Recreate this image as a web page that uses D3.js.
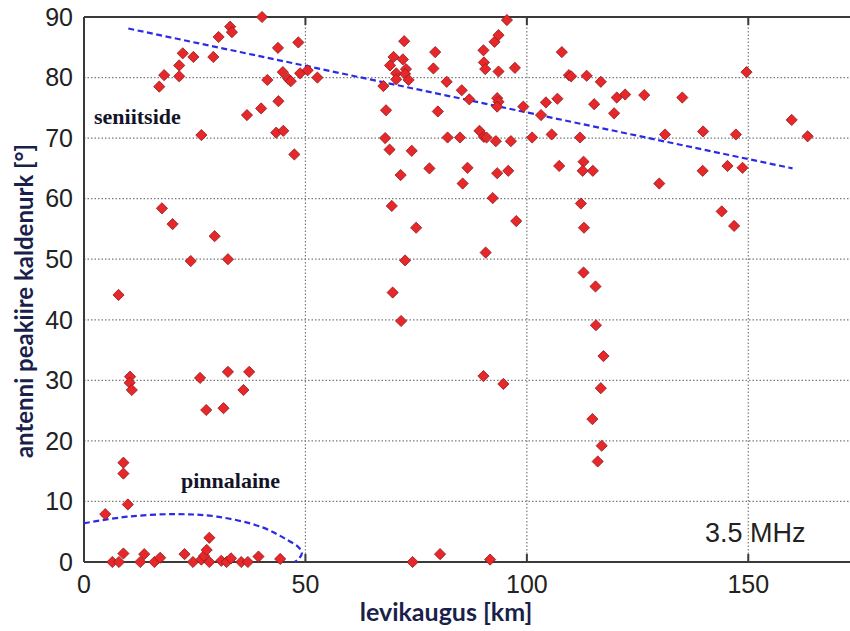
<!DOCTYPE html>
<html>
<head>
<meta charset="utf-8">
<script src="https://cdn.jsdelivr.net/npm/d3@7"></script>
<style>
  body { margin: 0; background: #fff; }
  svg { display: block; }
</style>
</head>
<body>
<svg></svg>
<script>
// measured points: distance [km] and antenna elevation angle [deg]
const levikaugus = [
  40.2, 33.0, 33.4, 30.4, 22.3, 24.7, 29.2, 21.5, 21.5, 18.1, 17.0, 43.8, 48.4, 44.9, 46.1, 46.7,
  41.4, 48.8, 43.9, 40.0, 36.8, 26.5, 43.4, 45.0, 47.5, 17.6, 50.5, 52.7, 67.6, 68.2, 69.9, 69.1,
  70.5, 70.5, 72.3, 72.0, 72.7, 72.5, 73.3, 68.0, 69.0, 74.0, 71.5, 69.5, 79.3, 78.9, 81.9, 85.3,
  87.0, 79.9, 82.1, 84.9, 78.0, 86.6, 85.5, 90.2, 90.3, 90.6, 92.7, 93.6, 95.5, 93.6, 97.3, 93.3,
  93.6, 93.3, 99.2, 89.3, 90.3, 90.9, 93.0, 96.4, 93.3, 95.8, 92.3, 101.2, 103.2, 104.3, 106.9, 107.9,
  109.5, 110.0, 105.6, 107.3, 112.0, 112.2, 113.5, 116.7, 115.2, 120.3, 122.2, 126.5, 135.1, 119.7, 149.6, 131.2,
  139.8, 147.2, 159.8, 163.4, 112.8, 112.6, 114.9, 129.9, 139.7, 145.3, 148.7, 144.0, 20.0, 29.5, 24.1, 32.5,
  7.8, 10.4, 10.3, 10.8, 26.2, 32.5, 37.3, 36.0, 27.6, 31.5, 75.0, 97.6, 90.7, 72.5, 69.7, 71.6,
  90.2, 94.7, 112.9, 146.8, 112.8, 115.5, 115.6, 117.3, 116.7, 114.8, 116.9, 116.0, 8.9, 8.9, 9.9, 4.8,
  6.4, 7.9, 8.9, 12.7, 13.6, 15.9, 17.2, 22.7, 24.6, 26.5, 27.1, 27.7, 28.3, 28.3, 31.0, 32.2,
  33.2, 35.5, 37.0, 39.4, 44.3, 74.2, 80.4, 91.7
];
const nurk = [
  90.0, 88.4, 87.5, 86.7, 84.0, 83.4, 83.4, 82.0, 80.2, 80.4, 78.5, 84.9, 85.8, 80.9, 79.8, 79.4,
  79.6, 80.7, 76.1, 74.9, 73.8, 70.5, 70.9, 71.2, 67.3, 58.4, 81.2, 80.0, 78.6, 74.6, 83.4, 82.0,
  80.7, 79.7, 86.0, 83.0, 81.4, 80.6, 79.6, 70.0, 68.1, 67.9, 63.9, 58.8, 84.2, 81.5, 79.3, 77.9,
  76.4, 74.4, 70.1, 70.1, 65.0, 65.1, 62.5, 84.5, 82.5, 81.4, 85.9, 87.0, 89.5, 81.0, 81.6, 76.6,
  76.0, 75.2, 75.2, 71.2, 70.2, 70.1, 69.5, 69.5, 64.2, 64.6, 60.1, 70.1, 73.8, 75.9, 76.5, 84.2,
  80.4, 80.2, 70.6, 65.4, 70.1, 59.2, 80.3, 79.3, 75.6, 76.7, 77.2, 77.1, 76.7, 74.1, 80.9, 70.6,
  71.1, 70.6, 73.0, 70.3, 66.1, 64.6, 64.6, 62.5, 64.6, 65.4, 65.1, 57.9, 55.8, 53.8, 49.7, 50.0,
  44.1, 30.6, 29.6, 28.4, 30.4, 31.4, 31.4, 28.4, 25.1, 25.4, 55.2, 56.3, 51.1, 49.8, 44.5, 39.8,
  30.7, 29.4, 55.2, 55.5, 47.8, 45.5, 39.1, 34.0, 28.7, 23.6, 19.2, 16.6, 16.4, 14.6, 9.5, 7.9,
  0, 0, 1.4, 0, 1.3, 0, 0.7, 1.3, 0, 0.4, 1.0, 2.0, 4.0, 0, 0.2, 0,
  0.6, 0, 0, 0.9, 0.5, 0, 1.3, 0.4
];

// sky-wave trend line (two end points)
const trendX = [10, 160];
const trendY = [88.1, 65.0];

// ground-wave boundary curve
const pinnaX = [0, 10, 21, 30, 40, 46, 48.5, 49.2, 48.6, 47.6];
const pinnaY = [6.4, 7.5, 7.9, 7.5, 5.8, 3.6, 2.4, 1.5, 0.6, 0];

const xTicks = [0, 50, 100, 150];
const yTicks = [0, 10, 20, 30, 40, 50, 60, 70, 80, 90];

const width = 850, height = 631;
const svg = d3.select("svg").attr("width", width).attr("height", height);

// plot area runs past the right edge of the picture
const x = d3.scaleLinear().domain([0, 175]).range([84, 859]);
const y = d3.scaleLinear().domain([0, 90]).range([562, 17]);

const gridColor = "#7a7a7a";

// grid
svg.append("g").selectAll("line")
  .data(yTicks.filter(d => d > 0 && d < 90))
  .join("line")
  .attr("x1", x(0)).attr("x2", width)
  .attr("y1", d => y(d)).attr("y2", d => y(d))
  .attr("stroke", gridColor).attr("stroke-width", 1.2)
  .attr("stroke-dasharray", "1.5,2");

svg.append("g").selectAll("line")
  .data(xTicks.filter(d => d > 0))
  .join("line")
  .attr("x1", d => x(d)).attr("x2", d => x(d))
  .attr("y1", y(90)).attr("y2", y(0))
  .attr("stroke", gridColor).attr("stroke-width", 1.2)
  .attr("stroke-dasharray", "1.5,2");

// frame: left, bottom, top
const axisColor = "#3a3a3a";
svg.append("line").attr("x1", x(0)).attr("x2", x(0)).attr("y1", y(90)).attr("y2", y(0))
  .attr("stroke", axisColor).attr("stroke-width", 2);
svg.append("line").attr("x1", x(0)).attr("x2", width).attr("y1", y(0)).attr("y2", y(0))
  .attr("stroke", axisColor).attr("stroke-width", 2);
svg.append("line").attr("x1", x(0)).attr("x2", width).attr("y1", y(90)).attr("y2", y(90))
  .attr("stroke", axisColor).attr("stroke-width", 2);

// inner ticks at top and bottom
xTicks.filter(d => d > 0).forEach(d => {
  svg.append("line").attr("x1", x(d)).attr("x2", x(d)).attr("y1", y(0)).attr("y2", y(0) - 8)
    .attr("stroke", axisColor).attr("stroke-width", 2);
  svg.append("line").attr("x1", x(d)).attr("x2", x(d)).attr("y1", y(90)).attr("y2", y(90) + 8)
    .attr("stroke", axisColor).attr("stroke-width", 2);
});

// tick labels
svg.append("g").selectAll("text")
  .data(yTicks)
  .join("text")
  .attr("x", 73).attr("y", d => y(d)).attr("dy", "0.35em")
  .attr("text-anchor", "end")
  .attr("font-family", "Liberation Sans, Arial, sans-serif")
  .attr("font-size", 25).attr("fill", "#222")
  .text(d => d);

svg.append("g").selectAll("text")
  .data(xTicks)
  .join("text")
  .attr("x", d => x(d)).attr("y", 593)
  .attr("text-anchor", "middle")
  .attr("font-family", "Liberation Sans, Arial, sans-serif")
  .attr("font-size", 25).attr("fill", "#222")
  .text(d => d);

// trend lines
const line = d3.line().x(d => x(d[0])).y(d => y(d[1]));
svg.append("path")
  .attr("d", line(d3.zip(trendX, trendY)))
  .attr("fill", "none").attr("stroke", "#2b2be6").attr("stroke-width", 2.2)
  .attr("stroke-dasharray", "6,3.5");

svg.append("path")
  .attr("d", line.curve(d3.curveCatmullRom)(d3.zip(pinnaX, pinnaY)))
  .attr("fill", "none").attr("stroke", "#2b2be6").attr("stroke-width", 2.2)
  .attr("stroke-dasharray", "6,3.5");

// points
const diamond = d3.symbol().type(d3.symbolDiamond2).size(80);
svg.append("g").selectAll("path")
  .data(d3.zip(levikaugus, nurk))
  .join("path")
  .attr("transform", d => `translate(${x(d[0])},${y(d[1])})`)
  .attr("d", diamond)
  .attr("fill", "#e8272b")
  .attr("stroke", "#8a1c1c").attr("stroke-width", 0.8);

// annotations
const serif = "Liberation Serif, Times New Roman, serif";
svg.append("text").attr("x", 94).attr("y", 124)
  .attr("font-family", serif).attr("font-weight", "bold").attr("font-size", 22)
  .attr("fill", "#141428").text("seniitside");
svg.append("text").attr("x", 181).attr("y", 488)
  .attr("font-family", serif).attr("font-weight", "bold").attr("font-size", 22)
  .attr("fill", "#141428").text("pinnalaine");
svg.append("text").attr("x", 705).attr("y", 542)
  .attr("font-family", "Liberation Sans, Arial, sans-serif").attr("font-size", 27)
  .attr("fill", "#222").text("3.5 MHz");

// axis titles
const titleColor = "#1b1f4b";
svg.append("text").attr("x", 446).attr("y", 621)
  .attr("text-anchor", "middle")
  .attr("font-family", "Lato, sans-serif").attr("font-weight", "bold").attr("font-size", 25)
  .attr("fill", titleColor).text("levikaugus [km]");
svg.append("text")
  .attr("transform", "translate(33,301) rotate(-90)")
  .attr("text-anchor", "middle")
  .attr("font-family", "Lato, sans-serif").attr("font-weight", "bold").attr("font-size", 24)
  .attr("fill", titleColor).text("antenni peakiire kaldenurk [°]");
</script>
</body>
</html>
